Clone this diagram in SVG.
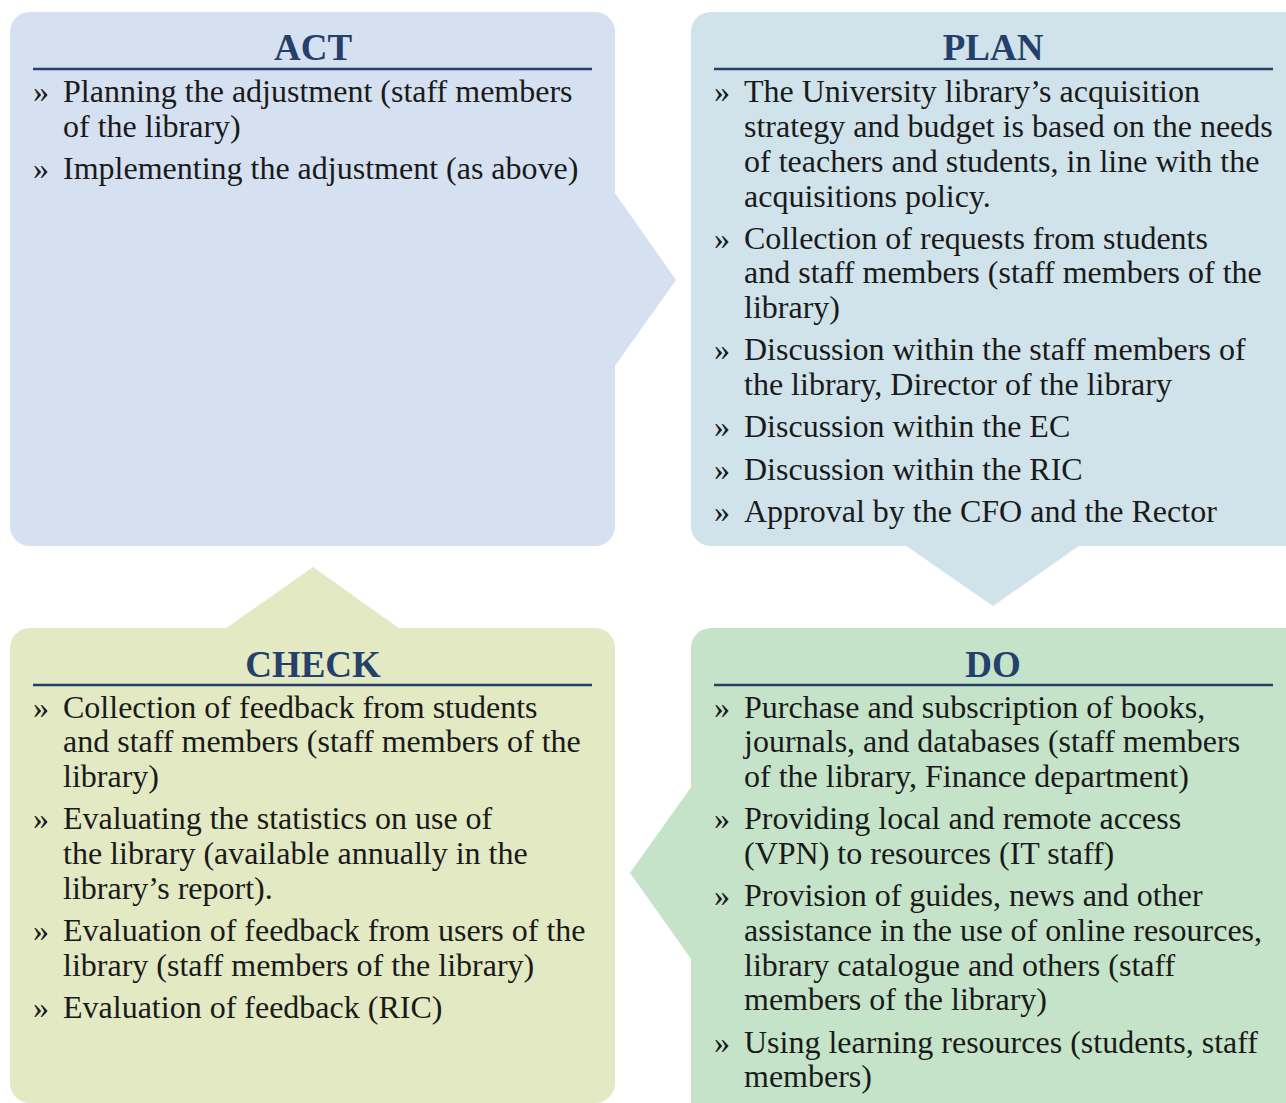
<svg xmlns="http://www.w3.org/2000/svg" width="1286" height="1103" viewBox="0 0 1286 1103">
<style>
.t{font-family:"Liberation Serif","Times New Roman",serif;font-size:37px;font-weight:bold;fill:#25406a;text-anchor:middle}
.b{font-family:"Liberation Serif","Times New Roman",serif;font-size:32px;fill:#1a1a1a}
.r{stroke:#25406a;stroke-width:2.5}
</style>
<rect width="1286" height="1103" fill="#ffffff"/>
<g id="connectors">
<polygon points="612,189 676,280 612,370" fill="#d5e0f1"/>
<polygon points="902,543 993,606 1083,543" fill="#d0e3ea"/>
<polygon points="694,783 630,873 694,963" fill="#c5e3c9"/>
<polygon points="222,631 313,567 403,631" fill="#e2e9c3"/>
</g>
<g id="act">
<rect x="10" y="12" width="605" height="534" rx="20" fill="#d5e0f1"/>
<text class="t" x="313" y="60">ACT</text>
<line class="r" x1="33" y1="69" x2="592" y2="69"/>
<text class="b" x="33" y="102">»</text><text class="b" x="63" y="102">Planning the adjustment (staff members</text>
<text class="b" x="63" y="137">of the library)</text>
<text class="b" x="33" y="179">»</text><text class="b" x="63" y="179">Implementing the adjustment (as above)</text>
</g>
<g id="plan">
<rect x="691" y="12" width="618" height="534" rx="20" fill="#d0e3ea"/>
<text class="t" x="993" y="60">PLAN</text>
<line class="r" x1="714" y1="69" x2="1273" y2="69"/>
<text class="b" x="714" y="102">»</text><text class="b" x="744" y="102">The University library’s acquisition</text>
<text class="b" x="744" y="137">strategy and budget is based on the needs</text>
<text class="b" x="744" y="172">of teachers and students, in line with the</text>
<text class="b" x="744" y="207">acquisitions policy.</text>
<text class="b" x="714" y="249">»</text><text class="b" x="744" y="249">Collection of requests from students</text>
<text class="b" x="744" y="283">and staff members (staff members of the</text>
<text class="b" x="744" y="318">library)</text>
<text class="b" x="714" y="360">»</text><text class="b" x="744" y="360">Discussion within the staff members of</text>
<text class="b" x="744" y="395">the library, Director of the library</text>
<text class="b" x="714" y="437">»</text><text class="b" x="744" y="437">Discussion within the EC</text>
<text class="b" x="714" y="480">»</text><text class="b" x="744" y="480">Discussion within the RIC</text>
<text class="b" x="714" y="522">»</text><text class="b" x="744" y="522">Approval by the CFO and the Rector</text>
</g>
<g id="check">
<rect x="10" y="628" width="605" height="475" rx="20" fill="#e2e9c3"/>
<text class="t" x="313" y="677">CHECK</text>
<line class="r" x1="33" y1="685" x2="592" y2="685"/>
<text class="b" x="33" y="718">»</text><text class="b" x="63" y="718">Collection of feedback from students</text>
<text class="b" x="63" y="752">and staff members (staff members of the</text>
<text class="b" x="63" y="787">library)</text>
<text class="b" x="33" y="829">»</text><text class="b" x="63" y="829">Evaluating the statistics on use of</text>
<text class="b" x="63" y="864">the library (available annually in the</text>
<text class="b" x="63" y="899">library’s report).</text>
<text class="b" x="33" y="941">»</text><text class="b" x="63" y="941">Evaluation of feedback from users of the</text>
<text class="b" x="63" y="976">library (staff members of the library)</text>
<text class="b" x="33" y="1018">»</text><text class="b" x="63" y="1018">Evaluation of feedback (RIC)</text>
</g>
<g id="do">
<rect x="691" y="628" width="618" height="500" rx="20" fill="#c5e3c9"/>
<text class="t" x="993" y="677">DO</text>
<line class="r" x1="714" y1="685" x2="1273" y2="685"/>
<text class="b" x="714" y="718">»</text><text class="b" x="744" y="718">Purchase and subscription of books,</text>
<text class="b" x="744" y="752">journals, and databases (staff members</text>
<text class="b" x="744" y="787">of the library, Finance department)</text>
<text class="b" x="714" y="829">»</text><text class="b" x="744" y="829">Providing local and remote access</text>
<text class="b" x="744" y="864">(VPN) to resources (IT staff)</text>
<text class="b" x="714" y="906">»</text><text class="b" x="744" y="906">Provision of guides, news and other</text>
<text class="b" x="744" y="941">assistance in the use of online resources,</text>
<text class="b" x="744" y="976">library catalogue and others (staff</text>
<text class="b" x="744" y="1010">members of the library)</text>
<text class="b" x="714" y="1053">»</text><text class="b" x="744" y="1053">Using learning resources (students, staff</text>
<text class="b" x="744" y="1087">members)</text>
</g>
</svg>
